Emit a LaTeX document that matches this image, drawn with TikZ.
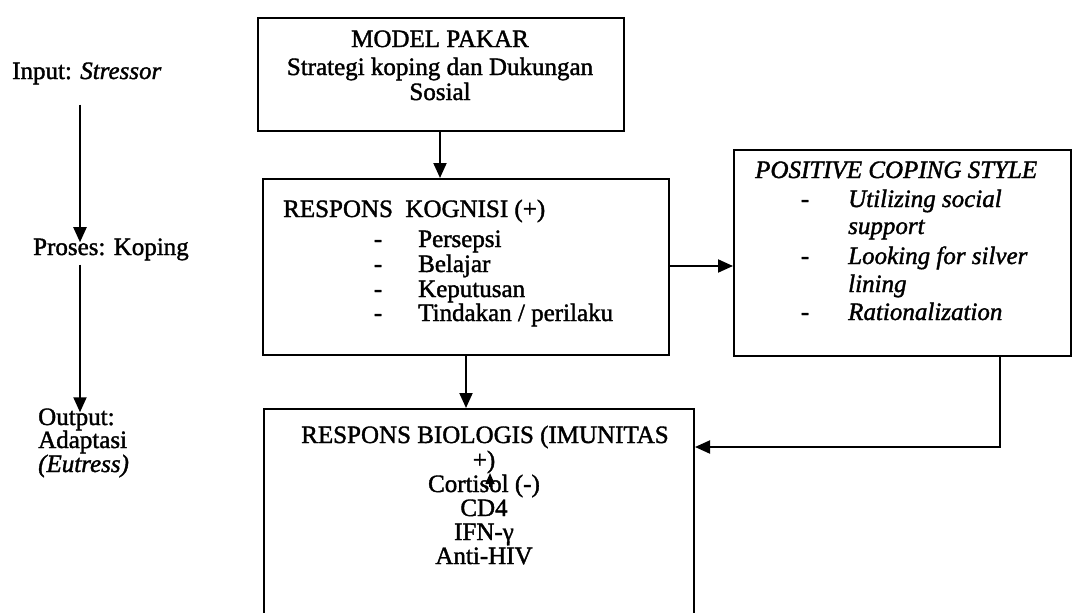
\documentclass[tikz,border=0pt]{standalone}
\usepackage{fontspec}
\setmainfont{Liberation Serif}[UprightFeatures={FakeBold=1.5}, ItalicFeatures={FakeBold=1.5}]
\usetikzlibrary{arrows.meta}
\begin{document}
\begin{tikzpicture}[x=1pt,y=-1pt,
  box/.style={draw, line width=2pt, rectangle, inner sep=0pt, anchor=north west},
  txt/.style={font=\fontsize{25}{29}\selectfont, inner sep=0pt},
  lt/.style={txt, anchor=base west},
  ct/.style={txt, anchor=base},
  flow/.style={line width=2pt, -{Triangle[length=15pt,width=13pt]}},
]
\useasboundingbox (0,0) rectangle (1074,613);
\clip (0,0) rectangle (1074,613);

% ---- left column: stages of the process
\node[lt] (input)  at (12,79)  {Input: \textit{Stressor}};
\node[lt] (proses) at (33,255) {Proses: Koping};
\node[lt] (output) at (38,425) {Output:};
\node[lt] (adapt)  at (38,448) {Adaptasi};
\node[lt] (eut)    at (38,472) {\textit{(Eutress)}};
\coordinate (lx) at (80,0);
\draw[flow, shorten <=20pt, shorten >=-4pt] (input.south -| lx) -- (proses.north -| lx);
\draw[flow, shorten <=4pt, shorten >=-4pt] (proses.south -| lx) -- (output.north -| lx);

% ---- boxes
\node[box, minimum width=366pt, minimum height=113pt] (pakar)   at (257,17)  {};
\node[box, minimum width=406pt, minimum height=176pt] (kognisi) at (262,178) {};
\node[box, minimum width=337pt, minimum height=206pt] (coping)  at (733,149) {};
\node[box, minimum width=430pt, minimum height=260pt] (bio)     at (263,408) {};

% ---- MODEL PAKAR
\node[ct] (p1) at (440,47)  {MODEL PAKAR};
\node[ct] (p2) at (440,75)  {Strategi koping dan Dukungan};
\node[ct] (p3) at (440,100) {Sosial};

% ---- RESPONS KOGNISI
\node[lt] (k0) at (283,217) {RESPONS\ \ KOGNISI (+)};
\foreach \t/\y [count=\i] in {Persepsi/247, Belajar/272, Keputusan/297, {Tindakan / perilaku}/321}{
  \node[ct] (kd\i) at (378,\y) {-};
  \node[lt] (k\i)  at (418,\y) {\t};
}

% ---- POSITIVE COPING STYLE
\node[lt] (c0) at (755,178) {\textit{POSITIVE COPING STYLE}};
\node[ct] (cd1) at (805,207) {-};
\node[lt] (c1)  at (848,207) {\textit{Utilizing social}};
\node[lt] (c1b) at (848,234) {\textit{support}};
\node[ct] (cd2) at (805,264) {-};
\node[lt] (c2)  at (848,264) {\textit{Looking for silver}};
\node[lt] (c2b) at (848,292) {\textit{lining}};
\node[ct] (cd3) at (805,320) {-};
\node[lt] (c3)  at (848,320) {\textit{Rationalization}};

% ---- RESPONS BIOLOGIS
\node[ct] (b0) at (485,443) {RESPONS BIOLOGIS (IMUNITAS};
\node[ct] (b1) at (484,468) {+)};
\node[ct] (b2) at (484,492) {Cortisol (-)};
\node[ct] (b3) at (484,516) {CD4};
\node[ct] (b4) at (484,540) {IFN-γ};
\node[ct] (b5) at (484,564) {Anti-HIV};

% ---- connectors
\coordinate (ax) at (440,0);
\draw[flow] (pakar.south -| ax) -- (kognisi.north -| ax);
\draw[flow] (kognisi.south) -- (kognisi.south |- bio.north);
\coordinate (mid) at (0,266);
\draw[flow] (kognisi.east |- mid) -- (coping.west |- mid);
\coordinate (turn) at (1000,447);
\draw[flow] (coping.south -| turn) -- (turn) -- (bio.east |- turn);

% small stray arrowhead inside the biology box
\coordinate (tb) at (490,487);
\coordinate (tt) at (490,473);
\draw[line width=1.5pt, -{Triangle[length=11pt,width=9pt]}] (tb) -- (tt);
\end{tikzpicture}
\end{document}
